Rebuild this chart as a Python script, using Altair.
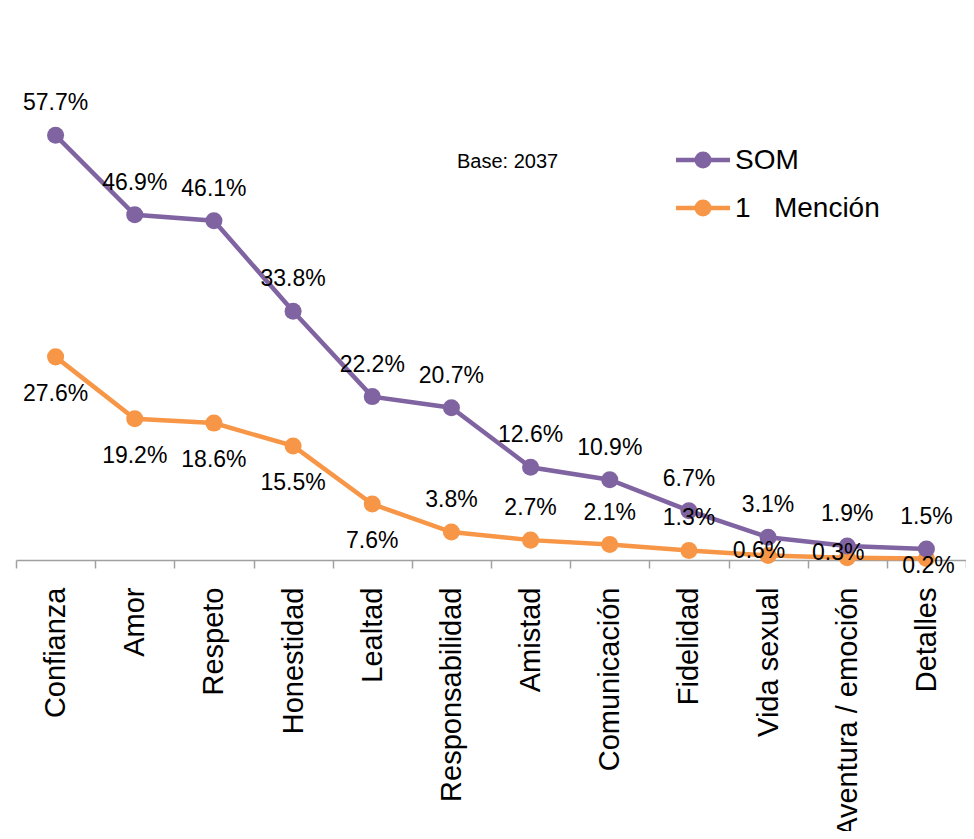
import altair as alt
import pandas as pd

categories = ["Confianza", "Amor", "Respeto", "Honestidad", "Lealtad", "Responsabilidad",
              "Amistad", "Comunicación", "Fidelidad", "Vida sexual", "Aventura / emoción", "Detalles"]
som_values = [57.7, 46.9, 46.1, 33.8, 22.2, 20.7, 12.6, 10.9, 6.7, 3.1, 1.9, 1.5]
mencion_values = [27.6, 19.2, 18.6, 15.5, 7.6, 3.8, 2.7, 2.1, 1.3, 0.6, 0.3, 0.2]
# where each data label sits relative to its point
som_label_place = ["above"] * 12
mencion_label_place = ["below", "below", "below", "below", "below", "above",
                       "above", "above", "above", "center", "center", "low"]
series_names = ["SOM", "1\u00a0\u00a0\u00a0Mención"]
series_colors = ["#8064A2", "#F79646"]
base_note = "Base: 2037"

rows = []
for c, v, p in zip(categories, som_values, som_label_place):
    rows.append({"cat": c, "val": v, "serie": series_names[0], "place": p,
                 "label": f"{v:.1f}%"})
for c, v, p in zip(categories, mencion_values, mencion_label_place):
    rows.append({"cat": c, "val": v, "serie": series_names[1], "place": p,
                 "label": f"{v:.1f}%"})
df = pd.DataFrame(rows)

FONT = "Liberation Sans"

x_enc = alt.X("cat:N", sort=categories, title=None,
              scale=alt.Scale(type="band", paddingInner=0, paddingOuter=0),
              axis=alt.Axis(labelAngle=-90, labelAlign="right", labelBaseline="middle",
                            labelFontSize=29, labelColor="#000000", labelFont=FONT,
                            labelPadding=19, labelLimit=0, tickSize=8, tickColor="#A0A0A0",
                            domainColor="#A0A0A0", domainWidth=1.5, tickWidth=1.5,
                            tickBand="extent", grid=False, labelOverlap=False))
y_enc = alt.Y("val:Q", scale=alt.Scale(domain=[0, 75]), axis=None)
color_scale = alt.Scale(domain=series_names, range=series_colors)

base = alt.Chart(df)

lines = base.mark_line(strokeWidth=4.5).encode(
    x=x_enc, y=y_enc,
    stroke=alt.Stroke("serie:N", scale=color_scale, sort=series_names, legend=None),
)

points = base.mark_circle(size=290, opacity=1).encode(
    x=x_enc, y=y_enc,
    color=alt.Color("serie:N", scale=color_scale, sort=series_names, legend=None),
    order=alt.Order("serie:N"),
)

def label_layer(place, dx, dy):
    return base.transform_filter(alt.datum.place == place).mark_text(
        fontSize=23, font=FONT, color="#000000", dx=dx, dy=dy, baseline="middle"
    ).encode(x=x_enc, y=y_enc, text="label:N")

labels = [
    label_layer("above", 0, -32),
    label_layer("below", 0, 37),
    label_layer("center", -9, -5),
    label_layer("low", 2, 7),
]

note = alt.Chart(pd.DataFrame({"t": [base_note]})).mark_text(
    fontSize=20, font=FONT, color="#000000", align="left", baseline="middle"
).encode(x=alt.value(441), y=alt.value(154), text="t:N")

# legend (line + dot symbol with label), one row per series
legend_layers = []
for i, (name, col) in enumerate(zip(series_names, series_colors)):
    ldf = alt.Chart(pd.DataFrame({"serie": [name]}))
    ly = 152 + 48 * i
    legend_layers.append(ldf.mark_rule(strokeWidth=4.5, color=col).encode(
        x=alt.value(660), x2=alt.value(714), y=alt.value(ly)))
    legend_layers.append(ldf.mark_circle(size=290, opacity=1, color=col).encode(
        x=alt.value(687), y=alt.value(ly)))
    legend_layers.append(ldf.mark_text(fontSize=28, font=FONT, color="#000000",
                                       align="left", baseline="middle").encode(
        x=alt.value(719), y=alt.value(ly + 1), text="serie:N"))

chart = alt.layer(lines, points, *labels, note, *legend_layers).properties(
    width=950, height=552,
    autosize=alt.AutoSizeParams(type="none"),
    padding={"left": 8, "top": 0, "right": 0, "bottom": 271},
).configure(background="white").configure_view(stroke=None)

chart.save("out.html", embed_options={"renderer": "svg", "actions": False})
